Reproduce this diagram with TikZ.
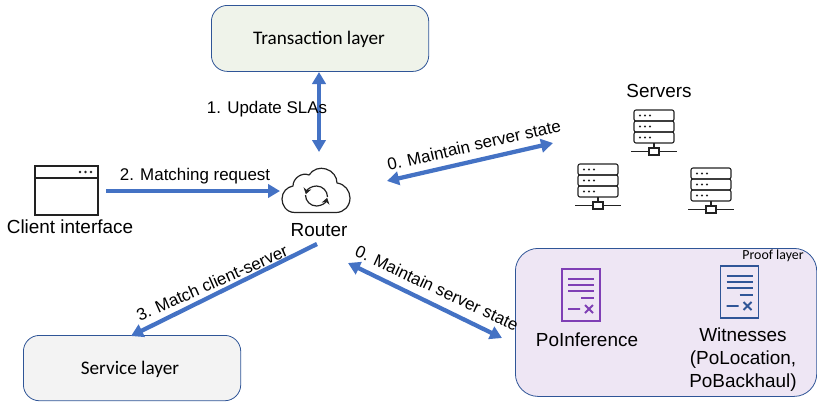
\documentclass[tikz,border=0pt]{standalone}
\usepackage{fontspec}
\setmainfont{Liberation Sans}
\newfontfamily\boxfont{Carlito}
\usetikzlibrary{arrows.meta}
\definecolor{arrowblue}{HTML}{4472C4}
\definecolor{boxedge}{HTML}{2F5597}
\definecolor{greenfill}{HTML}{EFF3EA}
\definecolor{greyfill}{HTML}{F3F3F3}
\definecolor{purplefill}{HTML}{EEE6F4}
\definecolor{docpurple}{HTML}{7F3FB5}
\definecolor{docblue}{HTML}{2F5597}
\definecolor{icon}{HTML}{222222}
\tikzset{
 x=0.75pt,y=-0.75pt,
 layerbox/.style={draw=boxedge,line width=0.6pt,rounded corners=12pt,inner sep=0pt},
 layertext/.style={font=\boxfont\fontsize{14.4pt}{16pt}\selectfont},
 big/.style={font=\fontsize{14.2pt}{17.2pt}\selectfont,text=black,inner sep=0pt,align=center},
 edgelabel/.style={font=\fontsize{12.7pt}{14pt}\selectfont,text=black,inner sep=0pt},
 flow/.style={draw=arrowblue,line width=3.2pt,-{Triangle[length=9pt,width=10pt]}},
 flowboth/.style={draw=arrowblue,line width=3.2pt,{Triangle[length=9pt,width=10pt]}-{Triangle[length=9pt,width=10pt]}},
}
\newcommand{\srv}[2]{%
 \begin{scope}[shift={(#1,#2)},draw=icon,line width=0.85pt]
  \draw[rounded corners=1.5pt] (-20,-40) rectangle (20,-29);
  \draw[rounded corners=1.5pt] (-20,-29) rectangle (20,-18);
  \draw[rounded corners=1.5pt] (-20,-18) rectangle (20,-7);
  \foreach \yy in {-34.5,-23.5,-12.5}\foreach \xx in {-14,-9,-4}\fill[icon] (\xx,\yy) circle (1.2);
  \draw (0,-7) -- (0,-2);
  \draw (-23,1.5) -- (-5,1.5) (5,1.5) -- (23,1.5);
  \draw (-5,-2) rectangle (5,5);
 \end{scope}}
\newcommand{\docu}[3]{%
 \begin{scope}[shift={(#1,#2)}]
  \draw[draw=#3,line width=1.3pt] (-19,-26) rectangle (19,26);
  \draw[draw=#3,line width=1.4pt] (-13,-16) -- (13,-16) (-13,-10) -- (13,-10) (-13,-4) -- (13,-4) (0,3) -- (13,3);
  \draw[draw=#3,line width=1.4pt] (-13,14) -- (-1,14) (4,10) -- (12,18) (4,18) -- (12,10);
 \end{scope}}
\begin{document}
\begin{tikzpicture}
\useasboundingbox (0,0) rectangle (817,401);
% layer boxes
\node[layerbox,fill=greenfill,minimum width=163pt,minimum height=49.5pt,anchor=north west] (tx) at (211,5) {};
\node[layertext,inner sep=0pt] (txl) at (319,39) {Transaction layer};
\node[layerbox,fill=greyfill,minimum width=163pt,minimum height=49pt,anchor=north west] (svc) at (23,335) {};
\node[layertext,inner sep=0pt] (svcl) at (130,369) {Service layer};
\node[layerbox,fill=purplefill,minimum width=226pt,minimum height=111pt,anchor=north west,rounded corners=17pt] (proof) at (515,248) {};
\node[font=\boxfont\fontsize{10.4pt}{12pt}\selectfont,inner sep=0pt] (prooflbl) at (773,256) {Proof layer};
% client window icon
\draw[icon,line width=1pt] (35,166) rectangle (98,215) (35,178) -- (98,178);
\foreach \xx in {80,85.5,91}\fill[icon] (\xx,172) circle (1.3);
\node[big] (client) at (70,227) {Client interface};
% router cloud
\draw[icon,line width=0.9pt,line join=round]
 (295,212.5) .. controls (286,212.5) and (282,205) .. (282,199)
 .. controls (282,192) and (287,187) .. (293,186)
 .. controls (293,178) and (302,172) .. (309,175)
 .. controls (313,169) and (320,167) .. (326,169)
 .. controls (333,171) and (337,177) .. (337,183)
 .. controls (345,184) and (350,191) .. (350,198)
 .. controls (350,206) and (344,212.5) .. (336,212.5) -- cycle;
\draw[icon,line width=0.9pt,-{Stealth[length=4.5pt,width=6pt]}] (305.5,195) arc (180:15:11);
\draw[icon,line width=0.9pt,-{Stealth[length=4.5pt,width=6pt]}] (327.5,197) arc (0:-165:11);
\node[big] (router) at (319,230) {Router};
% servers
\node[big] (servers) at (659,91) {Servers};
\srv{654}{150}
\srv{598}{204}
\srv{711}{208}
% proof layer
\docu{581}{295}{docpurple}
\docu{739.5}{292}{docblue}
\node[big] (poinf) at (587,340) {PoInference};
\node[big] (wit) at (743,360) {Witnesses\\(PoLocation,\\PoBackhaul)};
% connector ends
\coordinate (a1) at (319,72);
\coordinate (a2) at (319,152);
\coordinate (b1) at (106,191);
\coordinate (b2) at (280,191);
\coordinate (c1) at (387,181);
\coordinate (c2) at (553,143);
\coordinate (d1) at (348,263);
\coordinate (d2) at (502,338);
\coordinate (e1) at (317,244);
\coordinate (e2) at (131,336);
\draw[flowboth] (a1) -- (a2);
\draw[flow] (b1) -- (b2);
\draw[flowboth] (c1) -- (c2);
\draw[flowboth] (d1) -- (d2);
\draw[flow] (e1) -- (e2);
% labels
\node[edgelabel] (l1) at (267,109) {1. Update SLAs};
\node[edgelabel] (l2) at (195,176) {2. Matching request};
\node[edgelabel,rotate=13] (l0a) at (474,145) {0. Maintain server state};
\node[edgelabel,rotate=-25] (l0b) at (437,288) {0. Maintain server state};
\node[edgelabel,rotate=24] (l3) at (212,283) {3. Match client-server};
\end{tikzpicture}
\end{document}
